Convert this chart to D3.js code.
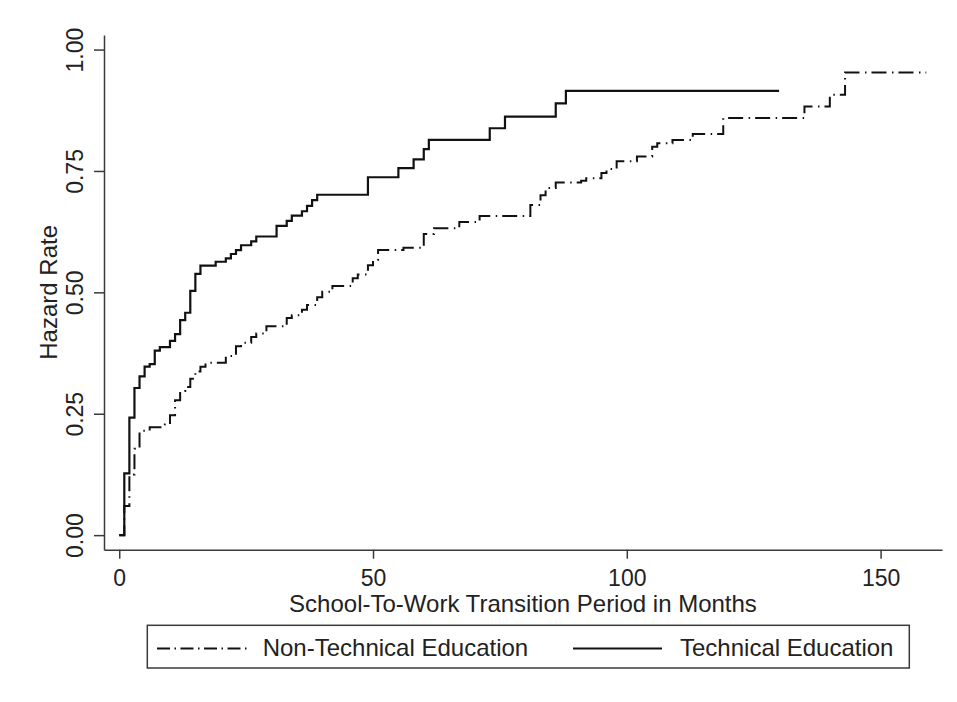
<!DOCTYPE html>
<meta charset="utf-8">
<style>
  body { margin: 0; background: #fff; }
  svg { display: block; font-family: "Liberation Sans", Arial, Helvetica, sans-serif; }
  .axis path, .axis line { stroke: #3a3a3a; stroke-width: 1.5; }
  .axis text { fill: #222; font-size: 23px; }
  .label { fill: #222; font-size: 24px; }
</style>
<body>
<script src="https://d3js.org/d3.v7.min.js"></script>
<script>

  // Technical education (solid), step values start at each month
  var techMonths = [0, 1, 2, 3, 4, 5, 6, 7, 8, 10, 11, 12, 13, 14, 15, 16, 19, 21, 22, 23, 24, 26, 27, 31, 33, 34, 36, 37, 38, 39, 49, 55, 58, 60, 61, 73, 76, 86, 88, 130];
  var techHazard = [0, 0.127, 0.242, 0.303, 0.327, 0.347, 0.352, 0.380, 0.387, 0.400, 0.414, 0.443, 0.458, 0.503, 0.538, 0.555, 0.563, 0.570, 0.579, 0.587, 0.597, 0.605, 0.615, 0.637, 0.647, 0.658, 0.667, 0.678, 0.690, 0.701, 0.737, 0.756, 0.774, 0.795, 0.814, 0.838, 0.862, 0.889, 0.915, 0.915];

  // Non-technical education (dash-dot)
  var nonTechMonths = [0, 1, 2, 3, 4, 6, 9, 10, 11, 12, 13, 14, 15, 16, 17, 21, 23, 24, 26, 27, 29, 33, 34, 36, 37, 39, 40, 42, 46, 47, 49, 50, 51, 56, 60, 62, 67, 71, 81, 83, 84, 86, 91, 92, 95, 96, 98, 102, 105, 106, 109, 113, 119, 135, 140, 143, 159];
  var nonTechHazard = [0, 0.06, 0.125, 0.178, 0.215, 0.222, 0.228, 0.247, 0.278, 0.297, 0.305, 0.322, 0.337, 0.347, 0.355, 0.369, 0.389, 0.396, 0.408, 0.415, 0.430, 0.447, 0.453, 0.464, 0.474, 0.490, 0.501, 0.513, 0.529, 0.537, 0.556, 0.567, 0.587, 0.592, 0.620, 0.632, 0.645, 0.657, 0.680, 0.700, 0.715, 0.726, 0.730, 0.735, 0.746, 0.754, 0.770, 0.780, 0.800, 0.807, 0.814, 0.826, 0.859, 0.883, 0.907, 0.953, 0.953];

  var xTicks = [0, 50, 100, 150];
  var yTicks = [0, 0.25, 0.5, 0.75, 1];
  var seriesNames = ["Non-Technical Education", "Technical Education"];

  var W = 957, H = 702;
  var plot = {left: 104, right: 942, top: 35, bottom: 549.7};

  var svg = d3.select("body").append("svg")
    .attr("width", W)
    .attr("height", H);

  var x = d3.scaleLinear()
    .domain([-3, 162.1])
    .range([plot.left, plot.right]);

  var y = d3.scaleLinear()
    .domain([-0.03, 1.03])
    .range([plot.bottom, plot.top]);

  var xAxis = d3.axisBottom(x)
    .tickValues(xTicks)
    .tickFormat(d3.format("d"))
    .tickSizeInner(9)
    .tickSizeOuter(0)
    .tickPadding(11);

  var yAxis = d3.axisLeft(y)
    .tickValues(yTicks)
    .tickFormat(d3.format(".2f"))
    .tickSizeInner(10)
    .tickSizeOuter(0);

  svg.append("g")
    .attr("class", "x axis")
    .attr("transform", "translate(0," + plot.bottom + ")")
    .call(xAxis)
    .selectAll("text")
    .attr("font-family", null)
    .attr("font-size", null);

  var gy = svg.append("g")
    .attr("class", "y axis")
    .attr("transform", "translate(" + plot.left + ",0)")
    .call(yAxis);
  gy.selectAll("text")
    .attr("font-family", null)
    .attr("font-size", null)
    .attr("transform", "rotate(-90)")
    .attr("text-anchor", "middle")
    .attr("x", 0)
    .attr("y", -20.7)
    .attr("dy", 0);
  svg.selectAll(".axis").attr("font-family", null).attr("font-size", null);

  // axis titles
  svg.append("text")
    .attr("class", "label")
    .attr("text-anchor", "middle")
    .attr("x", (plot.left + plot.right) / 2)
    .attr("y", 612)
    .text("School-To-Work Transition Period in Months");

  svg.append("text")
    .attr("class", "label")
    .attr("text-anchor", "middle")
    .attr("transform", "translate(57.3," + y(0.5) + ") rotate(-90)")
    .text("Hazard Rate");

  var line = d3.line()
    .curve(d3.curveStepAfter)
    .x(function(d) { return x(d[0]); })
    .y(function(d) { return y(d[1]); });

  var nonTech = d3.zip(nonTechMonths, nonTechHazard);
  var tech = d3.zip(techMonths, techHazard);

  svg.append("path")
    .datum(nonTech)
    .attr("fill", "none")
    .attr("stroke", "#111")
    .attr("stroke-width", 2)
    .attr("stroke-dasharray", "15,5.5,1.5,5")
    .attr("d", line);

  svg.append("path")
    .datum(tech)
    .attr("fill", "none")
    .attr("stroke", "#111")
    .attr("stroke-width", 2.2)
    .attr("d", line);

  // legend
  var lg = svg.append("g");
  lg.append("rect")
    .attr("x", 147.3)
    .attr("y", 625.3)
    .attr("width", 762)
    .attr("height", 42.7)
    .attr("fill", "none")
    .attr("stroke", "#3a3a3a")
    .attr("stroke-width", 1.5);

  var items = [
    {name: seriesNames[0], x0: 157, x1: 247, tx: 262.7, dash: "13,4.5,1.5,4.5"},
    {name: seriesNames[1], x0: 573, x1: 662, tx: 680, dash: null}
  ];
  items.forEach(function(it) {
    lg.append("line")
      .attr("x1", it.x0).attr("x2", it.x1)
      .attr("y1", 648.5).attr("y2", 648.5)
      .attr("stroke", "#111")
      .attr("stroke-width", 2)
      .attr("stroke-dasharray", it.dash);
    lg.append("text")
      .attr("class", "label")
      .attr("x", it.tx)
      .attr("y", 656)
      .text(it.name);
  });

</script>
